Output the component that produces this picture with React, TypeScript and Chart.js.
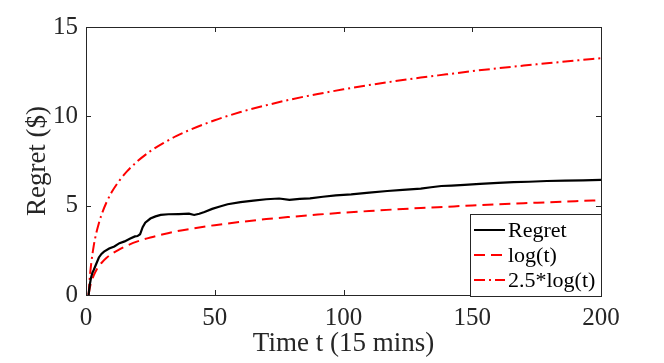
import React, { useEffect, useRef } from "react";
import { Chart, registerables } from "chart.js";

Chart.register(...registerables);

// Time axis samples (t, in 15-minute steps)
const logT: number[] = [1, 1.5, 2, 3, 4, 5, 6, 8, 10, 13, 16, 20, 25, 30, 35, 40, 50, 60, 70, 80, 90, 100, 110, 120, 130, 140, 150, 160, 170, 180, 190, 200];
const logValues: number[] = [0, 0.41, 0.69, 1.10, 1.39, 1.61, 1.79, 2.08, 2.30, 2.56, 2.77, 3.00, 3.22, 3.40, 3.56, 3.69, 3.91, 4.09, 4.25, 4.38, 4.50, 4.61, 4.70, 4.79, 4.87, 4.94, 5.01, 5.08, 5.14, 5.19, 5.25, 5.30];
const log25Values: number[] = [0, 1.01, 1.73, 2.75, 3.47, 4.02, 4.48, 5.20, 5.76, 6.41, 6.93, 7.49, 8.05, 8.50, 8.89, 9.22, 9.78, 10.24, 10.62, 10.96, 11.25, 11.51, 11.75, 11.97, 12.17, 12.35, 12.53, 12.69, 12.84, 12.98, 13.12, 13.25];

const regretT: number[] = [1, 1.5, 2, 2.5, 3, 4, 5, 6, 7, 9, 11, 13, 15, 17, 19, 20, 21, 22, 23, 25, 27, 29, 32, 36, 40, 42, 44, 46, 49, 52, 55, 60, 65, 70, 75, 79, 83, 87, 92, 97, 103, 110, 117, 123, 130, 134, 138, 142, 147, 153, 160, 166, 172, 179, 186, 193, 200];
const regretValues: number[] = [0, 0.6, 1.0, 1.25, 1.4, 1.75, 2.1, 2.3, 2.43, 2.6, 2.72, 2.9, 3.0, 3.15, 3.28, 3.3, 3.4, 3.8, 4.05, 4.28, 4.4, 4.48, 4.52, 4.53, 4.55, 4.48, 4.55, 4.65, 4.82, 4.95, 5.08, 5.2, 5.28, 5.36, 5.4, 5.33, 5.38, 5.41, 5.5, 5.58, 5.63, 5.73, 5.82, 5.88, 5.95, 6.03, 6.1, 6.12, 6.16, 6.22, 6.28, 6.32, 6.34, 6.38, 6.4, 6.42, 6.44];

const xTicks: number[] = [0, 50, 100, 150, 200];
const yTicks: number[] = [0, 5, 10, 15];

const seriesNames: string[] = ["Regret", "log(t)", "2.5*log(t)"];
const seriesColors: string[] = ["#000000", "#FF0000", "#FF0000"];
const seriesDashes: number[][] = [[], [11, 6], [11, 4, 2, 4]];

const FONT = "'Liberation Serif', 'Times New Roman', serif";
const AXIS_COLOR = "#262626";

const toPoints = (xs: number[], ys: number[]) => xs.map((x, i) => ({ x, y: ys[i] }));

const axesPlugin = {
  id: "matlabAxes",
  afterDatasetsDraw(chart: any) {
    const { ctx, chartArea } = chart;
    const { left, right, top, bottom } = chartArea;
    const xs = chart.scales.x;
    const ys = chart.scales.y;
    ctx.save();
    ctx.strokeStyle = AXIS_COLOR;
    ctx.lineWidth = 1;
    ctx.beginPath();
    ctx.rect(Math.round(left) + 0.5, Math.round(top) + 0.5, Math.round(right - left), Math.round(bottom - top));
    ctx.stroke();
    const tl = 5;
    ctx.beginPath();
    xTicks.forEach((v) => {
      const px = Math.round(xs.getPixelForValue(v)) + 0.5;
      ctx.moveTo(px, bottom);
      ctx.lineTo(px, bottom - tl);
      ctx.moveTo(px, top);
      ctx.lineTo(px, top + tl);
    });
    yTicks.forEach((v) => {
      const py = Math.round(ys.getPixelForValue(v)) + 0.5;
      ctx.moveTo(left, py);
      ctx.lineTo(left + tl, py);
      ctx.moveTo(right, py);
      ctx.lineTo(right - tl, py);
    });
    ctx.stroke();
    ctx.restore();
  },
  afterDraw(chart: any) {
    const { ctx, chartArea } = chart;
    const { right, bottom } = chartArea;
    const w = 131;
    const h = 82;
    const x0 = Math.round(right - w);
    const y0 = Math.round(bottom - h) + 1;
    ctx.save();
    ctx.fillStyle = "#ffffff";
    ctx.fillRect(x0, y0, w, h);
    ctx.strokeStyle = AXIS_COLOR;
    ctx.lineWidth = 1;
    ctx.strokeRect(x0 + 0.5, y0 + 0.5, w, h);
    ctx.font = `22px ${FONT}`;
    ctx.textBaseline = "middle";
    ctx.textAlign = "left";
    const rows = [16, 41, 66];
    seriesNames.forEach((name, i) => {
      const y = y0 + rows[i];
      ctx.beginPath();
      ctx.strokeStyle = seriesColors[i];
      ctx.lineWidth = 2;
      ctx.setLineDash(seriesDashes[i]);
      ctx.moveTo(x0 + 4, y);
      ctx.lineTo(x0 + 35, y);
      ctx.stroke();
      ctx.setLineDash([]);
      ctx.fillStyle = "#000000";
      ctx.fillText(name, x0 + 38, y + 1);
    });
    ctx.restore();
  },
};

export default function App() {
  const canvasRef = useRef<HTMLCanvasElement | null>(null);

  useEffect(() => {
    document.body.style.margin = "0";
    const canvas = canvasRef.current;
    if (!canvas) return;
    const chart = new Chart(canvas, {
      type: "line",
      data: {
        datasets: [
          {
            label: seriesNames[0],
            data: toPoints(regretT, regretValues),
            borderColor: seriesColors[0],
            borderWidth: 2.2,
            borderDash: seriesDashes[0],
            pointRadius: 0,
            tension: 0,
          },
          {
            label: seriesNames[1],
            data: toPoints(logT, logValues),
            borderColor: seriesColors[1],
            borderWidth: 2,
            borderDash: seriesDashes[1],
            pointRadius: 0,
            cubicInterpolationMode: "monotone",
          },
          {
            label: seriesNames[2],
            data: toPoints(logT, log25Values),
            borderColor: seriesColors[2],
            borderWidth: 2,
            borderDash: seriesDashes[2],
            pointRadius: 0,
            cubicInterpolationMode: "monotone",
          },
        ],
      },
      options: {
        animation: false,
        responsive: false,
        maintainAspectRatio: false,
        layout: { padding: { top: 27, right: 63, left: 0, bottom: 0 } },
        plugins: { legend: { display: false }, tooltip: { enabled: false } },
        scales: {
          x: {
            type: "linear",
            min: 0,
            max: 200,
            afterFit: (s: any) => { s.height = 68; },
            afterBuildTicks: (s: any) => { s.ticks = xTicks.map((v) => ({ value: v })); },
            grid: { display: false, drawTicks: false },
            border: { display: false },
            ticks: { color: AXIS_COLOR, font: { family: FONT, size: 25 }, padding: 8, maxRotation: 0 },
            title: { display: true, text: "Time t (15 mins)", color: AXIS_COLOR, font: { family: FONT, size: 27 }, padding: { top: 0, bottom: 3 } },
          },
          y: {
            type: "linear",
            min: 0,
            max: 15,
            afterFit: (s: any) => { s.width = 86; },
            afterBuildTicks: (s: any) => { s.ticks = yTicks.map((v) => ({ value: v })); },
            grid: { display: false, drawTicks: false },
            border: { display: false },
            ticks: { color: AXIS_COLOR, font: { family: FONT, size: 25 }, padding: 8 },
            title: { display: true, text: "Regret ($)", color: AXIS_COLOR, font: { family: FONT, size: 27 }, padding: { top: 22, bottom: 0 } },
          },
        },
      },
      plugins: [axesPlugin],
    });
    return () => chart.destroy();
  }, []);

  return (
    <div style={{ width: 664, height: 363, background: "#ffffff" }}>
      <canvas ref={canvasRef} width={664} height={363} style={{ display: "block" }} />
    </div>
  );
}
